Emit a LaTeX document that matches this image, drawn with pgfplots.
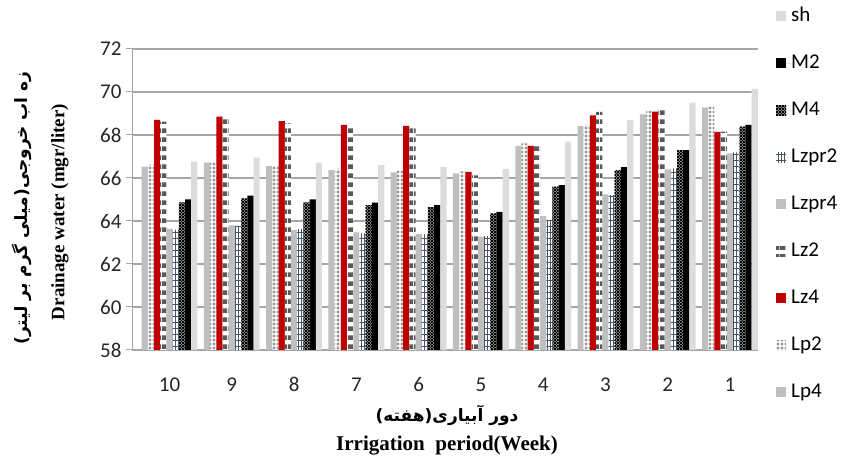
\documentclass[border=0pt]{standalone}
\usepackage{fontspec}
\setmainfont{Liberation Serif}
\newfontfamily\calibri{Carlito}
\newfontfamily\arabicfont[Script=Arabic]{DejaVu Sans}
\TeXXeTstate=1
\usepackage{pgfplots}
\pgfplotsset{compat=1.18}
\usetikzlibrary{patterns}

\definecolor{cLpf}{HTML}{BFBFBF}
\definecolor{cLzf}{HTML}{C00000}
\definecolor{cLzt}{HTML}{595959}
\definecolor{cLzprt}{HTML}{44546A}
\definecolor{cSh}{HTML}{DCDCDC}
\definecolor{cGrid}{HTML}{A6A6A6}

% horizontal dark blocks (Lz2)
\pgfdeclarepatternformonly{blockstripe}{\pgfqpoint{0pt}{0pt}}{\pgfqpoint{6pt}{9pt}}{\pgfqpoint{6pt}{9pt}}{%
  \pgfpathrectangle{\pgfqpoint{0pt}{0pt}}{\pgfqpoint{6pt}{5pt}}\pgfusepath{fill}}
% hash grid (Lzpr2)
\pgfdeclarepatternformonly{hashgrid}{\pgfqpoint{-0.5pt}{-0.5pt}}{\pgfqpoint{6.5pt}{6.5pt}}{\pgfqpoint{6pt}{6pt}}{%
  \pgfsetlinewidth{0.8pt}%
  \pgfpathmoveto{\pgfqpoint{0pt}{0pt}}\pgfpathlineto{\pgfqpoint{6pt}{0pt}}%
  \pgfpathmoveto{\pgfqpoint{1.5pt}{0pt}}\pgfpathlineto{\pgfqpoint{1.5pt}{6pt}}%
  \pgfpathmoveto{\pgfqpoint{4.5pt}{0pt}}\pgfpathlineto{\pgfqpoint{4.5pt}{6pt}}%
  \pgfusepath{stroke}}
% dense cross (M4)
\pgfdeclarepatternformonly{densecross}{\pgfqpoint{-1pt}{-1pt}}{\pgfqpoint{4pt}{4pt}}{\pgfqpoint{3pt}{3pt}}{%
  \pgfsetlinewidth{0.9pt}%
  \pgfpathmoveto{\pgfqpoint{0pt}{0pt}}\pgfpathlineto{\pgfqpoint{3pt}{3pt}}%
  \pgfpathmoveto{\pgfqpoint{0pt}{3pt}}\pgfpathlineto{\pgfqpoint{3pt}{0pt}}%
  \pgfusepath{stroke}}
% small light rings (Lp2)
\pgfdeclarepatternformonly{ringdots}{\pgfqpoint{-0.5pt}{-0.5pt}}{\pgfqpoint{4.5pt}{4.5pt}}{\pgfqpoint{4pt}{4pt}}{%
  \pgfsetlinewidth{0.6pt}%
  \pgfpathcircle{\pgfqpoint{2pt}{2pt}}{1.1pt}%
  \pgfusepath{stroke}}

\begin{document}
\begin{tikzpicture}
\begin{axis}[
  at={(132pt,116pt)}, anchor=south west,
  scale only axis, width=626pt, height=301pt,
  ybar=0pt, bar width=6.2pt,
  xmin=-0.603, xmax=9.45, ymin=58, ymax=72,
  xtick={0,...,9}, xticklabels={10,9,8,7,6,5,4,3,2,1},
  ytick={58,60,...,72},
  ymajorgrids, grid style={draw=cGrid, line width=1.2pt},
  axis x line*=bottom, axis y line*=left,
  axis line style={draw=cGrid, line width=1pt, -},
  x tick style={draw=none},
  y tick style={draw=cGrid, line width=1pt},
  tick align=outside, major tick length=6pt,
  /pgf/number format/assume math mode=true,
  ticklabel style={font=\calibri\fontsize{21}{24}\selectfont, text=black!85},
  xticklabel style={yshift=-18pt},
  yticklabel style={xshift=-1pt},
  reverse legend,
  legend image code/.code={%
    \path[#1,draw=none] (0pt,-5pt) rectangle (10pt,5pt);
    \path (0pt,0pt) -- (15pt,0pt);},
  legend cell align=left,
  legend style={at={(1,1.146)}, anchor=north west, xshift=15pt,
    draw=none, fill=none, row sep=29pt,
    font=\calibri\fontsize{21}{24}\selectfont,
    nodes={inner sep=0pt, text height=14pt, text depth=4pt}},
]
% Lp4
\addplot[draw=none, fill=cLpf] coordinates {(0,66.53) (1,66.71) (2,66.56) (3,66.37) (4,66.26) (5,66.22) (6,67.49) (7,68.42) (8,68.96) (9,69.29)};
% Lp2
\addplot[draw=none, fill=white, postaction={pattern=ringdots, pattern color=black!45}] coordinates {(0,66.62) (1,66.74) (2,66.59) (3,66.43) (4,66.36) (5,66.31) (6,67.61) (7,68.47) (8,69.12) (9,69.36)};
% Lz4
\addplot[draw=none, fill=cLzf] coordinates {(0,68.70) (1,68.85) (2,68.65) (3,68.47) (4,68.42) (5,66.28) (6,67.49) (7,68.91) (8,69.09) (9,68.14)};
% Lz2
\addplot[draw=none, fill=white, postaction={pattern=blockstripe, pattern color=cLzt}] coordinates {(0,68.62) (1,68.78) (2,68.54) (3,68.45) (4,68.36) (5,66.12) (6,67.53) (7,69.07) (8,69.19) (9,68.16)};
% Lzpr4
\addplot[draw=none, fill=cLpf] coordinates {(0,63.63) (1,63.80) (2,63.58) (3,63.47) (4,63.40) (5,63.27) (6,64.23) (7,65.24) (8,66.40) (9,67.15)};
% Lzpr2
\addplot[draw=none, fill=white, postaction={pattern=hashgrid, pattern color=cLzprt}] coordinates {(0,63.60) (1,63.77) (2,63.63) (3,63.43) (4,63.38) (5,63.30) (6,64.05) (7,65.21) (8,66.45) (9,67.19)};
% M4
\addplot[draw=none, fill=white, postaction={pattern=densecross, pattern color=black}] coordinates {(0,64.87) (1,65.05) (2,64.87) (3,64.74) (4,64.64) (5,64.36) (6,65.60) (7,66.37) (8,67.30) (9,68.39)};
% M2
\addplot[draw=none, fill=black] coordinates {(0,65.00) (1,65.18) (2,65.00) (3,64.85) (4,64.74) (5,64.42) (6,65.67) (7,66.50) (8,67.30) (9,68.47)};
% sh
\addplot[draw=none, fill=cSh] coordinates {(0,66.76) (1,66.95) (2,66.71) (3,66.60) (4,66.50) (5,66.42) (6,67.69) (7,68.70) (8,69.50) (9,70.14)};
\legend{Lp4,Lp2,Lz4,Lz2,Lzpr4,Lzpr2,M4,M2,sh}
\end{axis}
% axis titles
\node[rotate=90, font=\arabicfont\bfseries\fontsize{17}{20}\selectfont] at (22pt,258pt) {\beginR زه اب خروجی(میلی گرم بر لیتر)\endR};
\node[rotate=90, font=\bfseries\fontsize{19}{22}\selectfont] at (60pt,254pt) {Drainage water (mgr/liter)};
\node[font=\arabicfont\bfseries\fontsize{17}{20}\selectfont] at (447pt,51pt) {\beginR دور آبیاری(هفته)\endR};
\node[font=\bfseries\fontsize{21}{23}\selectfont] at (447pt,20pt) {Irrigation\ \ period(Week)};
\pgfresetboundingbox
\useasboundingbox (0pt,0pt) rectangle (847pt,466pt);
\end{tikzpicture}
\end{document}
